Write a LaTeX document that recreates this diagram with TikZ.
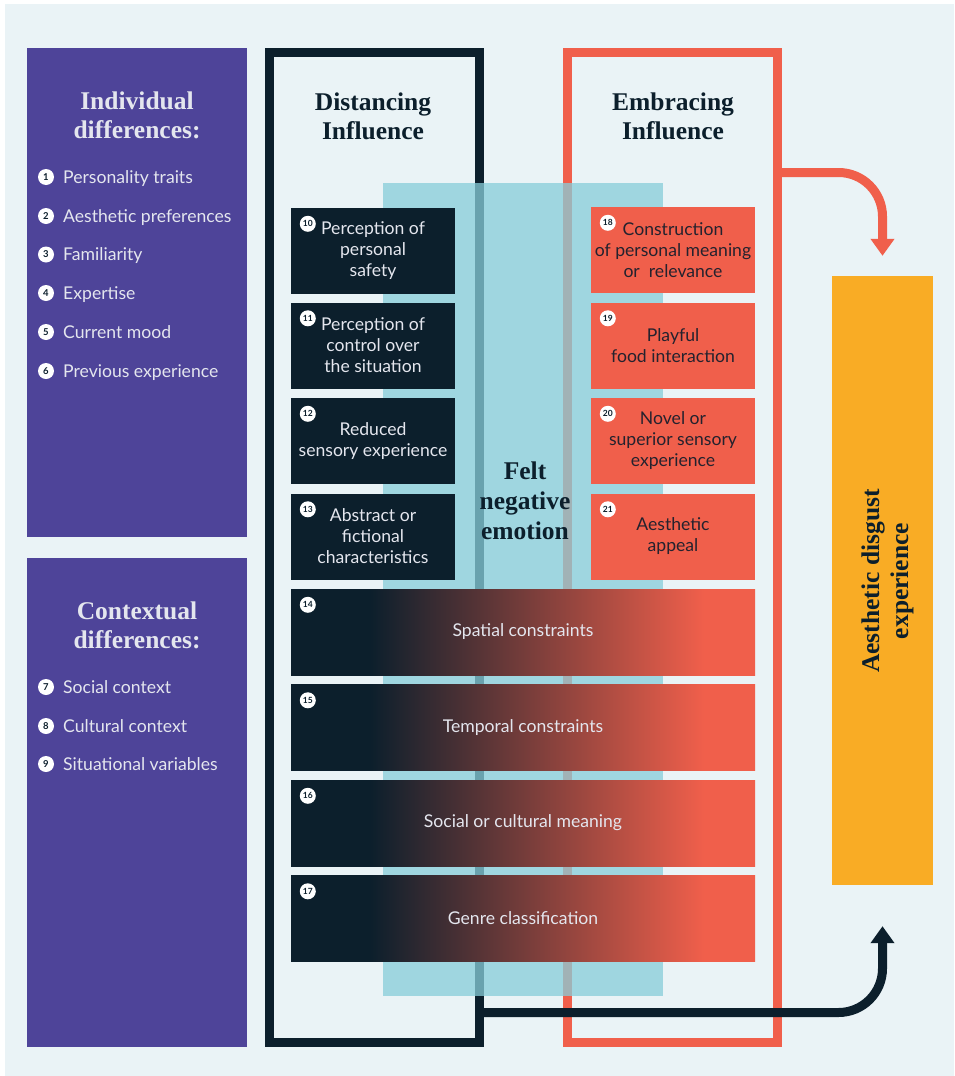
\documentclass[tikz,border=0pt]{standalone}
\usepackage{fontspec}
\setmainfont{Lato}
\newfontfamily\headfont{Liberation Serif}
\usetikzlibrary{arrows.meta,calc}

\definecolor{pagebg}{RGB}{234,243,246}
\definecolor{violet}{RGB}{78,68,153}
\definecolor{navy}{RGB}{12,31,44}
\definecolor{coral}{RGB}{240,95,75}
\definecolor{amber}{RGB}{249,172,37}
\definecolor{felt}{RGB}{136,205,217}
\definecolor{paletext}{RGB}{228,230,238}
\definecolor{inktext}{RGB}{36,34,46}

% navy on the left, coral on the right, blended in between
\pgfdeclarehorizontalshading{navycoral}{100bp}{color(0bp)=(navy); color(33.5bp)=(navy); color(69.5bp)=(coral); color(100bp)=(coral)}

\tikzset{
  panel/.style={fill=violet, minimum width=220pt, minimum height=489pt, inner sep=0pt, anchor=north west},
  frame/.style={line width=9pt, minimum width=210pt, minimum height=990pt, inner sep=0pt},
  factor/.style={minimum width=164pt, minimum height=86pt, inner sep=0pt, align=center, font=\fontsize{17.6}{21}\selectfont},
  distbox/.style={factor, fill=navy, text=paletext},
  embbox/.style={factor, fill=coral, text=inktext},
  bar/.style={minimum width=464pt, minimum height=86pt, inner sep=0pt, shade, shading=navycoral, text=paletext, font=\fontsize{17.6}{21}\selectfont},
  badge/.style={circle, fill=white, inner sep=0pt, minimum size=16pt, text=navy, font=\bfseries\fontsize{9.5}{9.5}\selectfont},
  heading/.style={font=\headfont\bfseries\fontsize{25.5}{29}\selectfont, align=center},
  item/.style={anchor=base west, inner sep=0pt, text=paletext, font=\fontsize{17.6}{17.6}\selectfont},
  flow/.style={line width=9pt, rounded corners=44pt, -{Triangle[width=23pt,length=17pt]}},
}

\begin{document}
\begin{tikzpicture}[x=1pt,y=-1pt]
\useasboundingbox (0,0) rectangle (954,1076);
\fill[white] (0,0) rectangle (954,1076);
\fill[pagebg] (5,4) rectangle (954,1076);

% ---- side panels ----
\node[panel] (indiv) at (27,48) {};
\node[panel] (context) at (27,558) {};

\node[heading, text=paletext] (indivhead) at (137,115) {Individual\\differences:};
\node[badge] (b1) at (46,177) {1};   \node[item] (i1) at (63,183) {Personality traits};
\node[badge] (b2) at (46,216) {2};   \node[item] (i2) at (63,222) {Aesthetic preferences};
\node[badge] (b3) at (46,254.5) {3}; \node[item] (i3) at (63,260.5) {Familiarity};
\node[badge] (b4) at (46,293) {4};   \node[item] (i4) at (63,299) {Expertise};
\node[badge] (b5) at (46,332) {5};   \node[item] (i5) at (63,338) {Current mood};
\node[badge] (b6) at (46,371) {6};   \node[item] (i6) at (63,377) {Previous experience};

\node[heading, text=paletext] (conthead) at (137,625) {Contextual\\differences:};
\node[badge] (b7) at (46,687) {7};   \node[item] (i7) at (63,693) {Social context};
\node[badge] (b8) at (46,726) {8};   \node[item] (i8) at (63,732) {Cultural context};
\node[badge] (b9) at (46,764) {9};   \node[item] (i9) at (63,770) {Situational variables};

% ---- influence frames ----
\node[frame, draw=navy] (distance) at (374.5,547.5) {};
\node[frame, draw=coral] (embrace) at (672.5,547.5) {};
\node[heading, text=navy] (disthead) at (373,116) {Distancing\\Influence};
\node[heading, text=navy] (embhead) at (673,116) {Embracing\\Influence};

% translucent band of felt emotion
\node[fill=felt, fill opacity=0.757, minimum width=280pt, minimum height=813pt, inner sep=0pt, anchor=north west] (band) at (383,183) {};

% ---- distancing factors ----
\node[distbox] (d10) at (373,251) {Perception of\\personal\\safety};
\node[distbox] (d11) at (373,345.5) {Perception of\\control over\\the situation};
\node[distbox] (d12) at (373,441) {Reduced\\sensory experience};
\node[distbox] (d13) at (373,536.5) {Abstract or\\fictional\\characteristics};

% ---- embracing factors ----
\node[embbox] (e18) at (673,250) {Construction\\of personal meaning\\or\ \ relevance};
\node[embbox] (e19) at (673,345.5) {Playful\\food interaction};
\node[embbox] (e20) at (673,441) {Novel or\\superior sensory\\experience};
\node[embbox] (e21) at (673,536.5) {Aesthetic\\appeal};

% ---- shared factors ----
\node[bar] (s14) at (523,632) {Spatial constraints};
\node[bar] (s15) at (523,727.5) {Temporal constraints};
\node[bar] (s16) at (523,823) {Social or cultural meaning};
\node[bar] (s17) at (523,918.5) {Genre classification};

\foreach \src/\num in {d10/10,d11/11,d12/12,d13/13,e18/18,e19/19,e20/20,e21/21,s14/14,s15/15,s16/16,s17/17}
  \node[badge, font=\bfseries\fontsize{8.5}{8.5}\selectfont] (n\num) at ($(\src.north west)+(17,16)$) {\num};

\node[heading, text=navy, font=\headfont\bfseries\fontsize{25.5}{30}\selectfont] (felttxt) at (525,501) {Felt\\negative\\emotion};

% ---- outcome ----
\node[fill=amber, minimum width=101pt, minimum height=609pt, inner sep=0pt] (goal) at (882.5,580.5) {};
\node[heading, text=navy, rotate=90] (goaltxt) at (887.5,581) {Aesthetic disgust\\experience};

\draw[flow, coral] ($(embrace.north east)+(0,124.5)$) -| ($(goal.north)+(0,-20)$);
\draw[flow, navy] ($(distance.south east)+(0,-34.5)$) -| ($(goal.south)+(0,41)$);
\end{tikzpicture}
\end{document}
